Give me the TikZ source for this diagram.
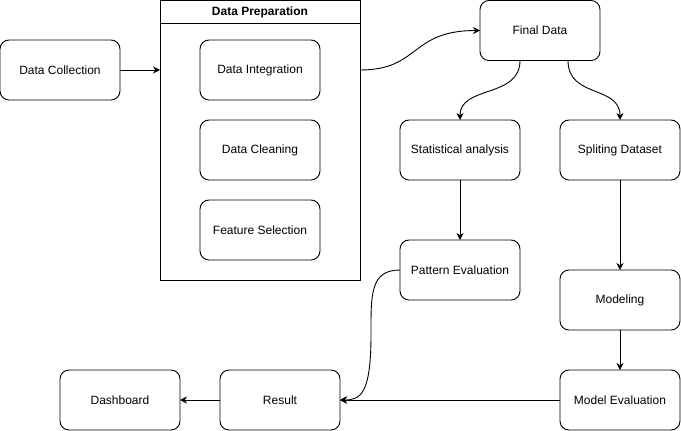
\documentclass[tikz,border=0pt]{standalone}
\usepackage{fontspec}
\setmainfont{Liberation Sans}
\usetikzlibrary{arrows.meta}
\begin{document}
\begin{tikzpicture}[x=1pt,y=-1pt,
  box/.style={draw, line width=0.9pt, rounded corners=9pt, minimum width=120pt, minimum height=60pt, inner sep=0pt, outer sep=0pt, align=center, font=\fontsize{12}{14}\selectfont},
  conn/.style={line width=0.9pt, -{Stealth[length=7pt,width=7pt]}}]
\useasboundingbox (0,0) rectangle (681,431);
% container
\node[draw, line width=0.9pt, minimum width=200pt, minimum height=280pt, inner sep=0pt, outer sep=0pt, anchor=north west] (prep) at (160,0.5) {};
\draw[line width=0.9pt] (160,23) -- (360,23);
\node[font=\fontsize{12}{14}\selectfont\bfseries] (preptitle) at (260,12) {Data Preparation};
% boxes
\node[box] (dc) at (60,70) {Data Collection};
\node[box] (di) at (260,70) {Data Integration};
\node[box] (dcl) at (260,150) {Data Cleaning};
\node[box] (fs) at (260,230) {Feature Selection};
\node[box] (fd) at (540,30.5) {Final Data};
\node[box] (sa) at (460,150) {Statistical analysis};
\node[box] (sd) at (620,150) {Spliting Dataset};
\node[box] (pe) at (460,270) {Pattern Evaluation};
\node[box] (mo) at (620,300) {Modeling};
\node[box] (me) at (620,400) {Model Evaluation};
\node[box] (re) at (280,400) {Result};
\node[box] (db) at (120,400) {Dashboard};
% connectors
\draw[conn] (dc.east) -- (prep.west |- dc.east);
\draw[conn] (prep.east |- di.east) .. controls +(60,0) and +(-70,0) .. (fd.west);
\draw[conn] ([xshift=-20pt]fd.south) .. controls +(0,38) and +(0,-35) .. (sa.north);
\draw[conn] ([xshift=28pt]fd.south) .. controls +(0,38) and +(0,-35) .. (sd.north);
\draw[conn] (sa.south) -- (pe.north);
\draw[conn] (sd.south) -- (mo.north);
\draw[conn] (mo.south) -- (me.north);
\draw[conn] (me.west) -- (re.east);
\draw[conn] (re.west) -- (db.east);
\coordinate (mid) at (371,335);
\draw[conn] (pe.west) .. controls +(-30,0) and +(0,-40) .. (mid) .. controls +(0,60) and +(20,0) .. (re.east);
\end{tikzpicture}
\end{document}
